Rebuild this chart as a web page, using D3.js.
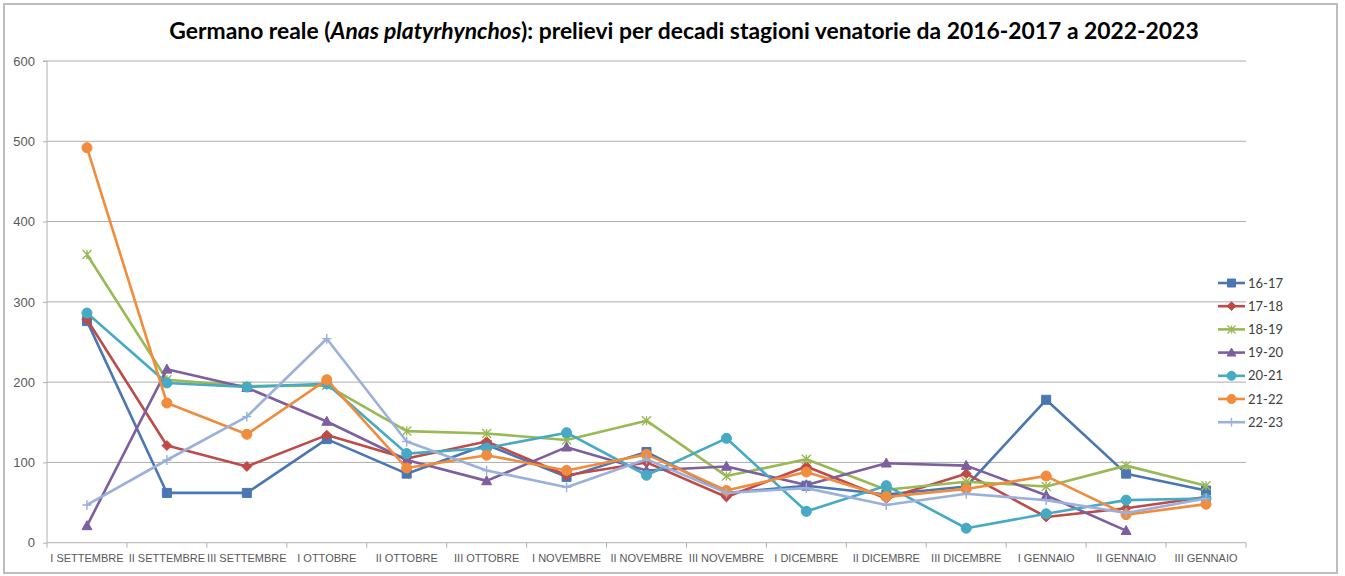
<!DOCTYPE html>
<html>
<head>
<meta charset="utf-8">
<script src="https://cdn.jsdelivr.net/npm/d3@7"></script>
<style>
  body { margin: 0; background: #fff; }
  svg { display: block; font-family: Lato, "Open Sans", sans-serif; }
  .grid line { stroke: #acacac; stroke-width: 1; }
  .axis text { fill: #595959; }
  .axis path, .axis line { stroke: #b0b0b0; }
</style>
</head>
<body>
<svg id="view"></svg>
<script>
// decadi
const categories = ['I SETTEMBRE', 'II SETTEMBRE', 'III SETTEMBRE', 'I OTTOBRE', 'II OTTOBRE', 'III OTTOBRE',
  'I NOVEMBRE', 'II NOVEMBRE', 'III NOVEMBRE', 'I DICEMBRE', 'II DICEMBRE', 'III DICEMBRE',
  'I GENNAIO', 'II GENNAIO', 'III GENNAIO'];

const seasons = ['16-17', '17-18', '18-19', '19-20', '20-21', '21-22', '22-23'];

const s1617 = [276, 62, 62, 129, 86, 122, 82, 113, 62, 71, 60, 70, 178, 86, 65];
const s1718 = [278, 121, 95, 134, 105, 126, 84, 100, 57, 95, 55, 86, 32, 43, 57];
const s1819 = [359, 203, 195, 196, 139, 136, 128, 152, 83, 104, 66, 76, 70, 96, 71];
const s1920 = [21, 216, 193, 151, 103, 77, 119, 90, 95, 72, 99, 96, 59, 15, null];
const s2021 = [286, 199, 194, 198, 111, 118, 137, 84, 130, 39, 71, 18, 36, 53, 55];
const s2122 = [492, 174, 135, 203, 93, 109, 90, 110, 65, 88, 57, 67, 83, 35, 48];
const s2223 = [47, 103, 157, 254, 126, 90, 69, 104, 62, 68, 47, 61, 53, 37, 55];

const yTicks = [0, 100, 200, 300, 400, 500, 600];

const seriesValues = [s1617, s1718, s1819, s1920, s2021, s2122, s2223];
const colors = ['#4a76b4', '#be4b48', '#98b954', '#7d5fa0', '#46aac5', '#f08c3c', '#9bb0da'];
const markers = ['square', 'diamond', 'star', 'triangle', 'circle', 'circle', 'plus'];

const W = 1345, H = 576;
const plot = {left: 47, right: 1246, top: 61, bottom: 542.7};

const svg = d3.select('#view').attr('width', W).attr('height', H);

// chart frame
svg.append('rect')
  .attr('x', 4).attr('y', 4).attr('width', 1333).attr('height', 569)
  .attr('fill', '#fff').attr('stroke', '#bdbdbd').attr('stroke-width', 2);

const x = d3.scaleBand().domain(categories).range([plot.left, plot.right]).padding(0);
const y = d3.scaleLinear().domain([0, 600]).range([plot.bottom, plot.top]);
const cx = d => x(d) + x.bandwidth() / 2;

// gridlines
svg.append('g').attr('class', 'grid')
  .selectAll('line').data(yTicks.filter(t => t > 0)).enter().append('line')
  .attr('x1', plot.left).attr('x2', plot.right)
  .attr('y1', d => y(d)).attr('y2', d => y(d));

// y axis
const yAxis = svg.append('g').attr('class', 'axis')
  .attr('transform', `translate(${plot.left},0)`)
  .call(d3.axisLeft(y).tickValues(yTicks).tickSize(4).tickPadding(8))
  .attr('font-size', 13);
yAxis.select('.domain').attr('d', `M-4,${plot.top}H0V${plot.bottom}`);

// x axis
const xAxis = svg.append('g').attr('class', 'axis')
  .attr('transform', `translate(0,${plot.bottom})`)
  .call(d3.axisBottom(x).tickSize(0).tickPadding(12))
  .attr('font-size', 11);
xAxis.select('.domain').attr('d', `M${plot.left},0H${plot.right}`);
xAxis.selectAll('.bound').data(categories.concat(['end'])).enter().append('line')
  .attr('class', 'bound')
  .attr('x1', (d, i) => i < categories.length ? x(d) : plot.right)
  .attr('x2', (d, i) => i < categories.length ? x(d) : plot.right)
  .attr('y1', 0).attr('y2', 5);

// marker shapes
const markerPath = function(type, s){
  switch(type){
    case 'square': return `M${-s},${-s}H${s}V${s}H${-s}Z`;
    case 'diamond': return `M0,${-s*1.1}L${s*1.1},0L0,${s*1.1}L${-s*1.1},0Z`;
    case 'triangle': return `M0,${-s*1.15}L${s*1.1},${s*0.85}L${-s*1.1},${s*0.85}Z`;
    case 'circle': return d3.symbol(d3.symbolCircle, Math.PI * s * s * 1.25)();
    case 'star': return `M${-s},${-s}L${s},${s}M${-s},${s}L${s},${-s}M0,${-s}V${s}`;
    case 'plus': return `M${-s},0H${s}M0,${-s*1.1}V${s*1.1}`;
  }
};
const isOpen = t => t === 'star' || t === 'plus';

const line = d3.line()
  .defined(d => d.v !== null)
  .x(d => cx(d.c))
  .y(d => y(d.v));

seriesValues.forEach((vals, k) => {
  const pts = vals.map((v, i) => ({c: categories[i], v: v}));
  const g = svg.append('g');
  g.append('path').datum(pts)
    .attr('fill', 'none')
    .attr('stroke', colors[k])
    .attr('stroke-width', 2.6)
    .attr('stroke-linejoin', 'round')
    .attr('d', line);
  g.selectAll('.mk').data(pts.filter(d => d.v !== null)).enter().append('path')
    .attr('class', 'mk')
    .attr('transform', d => `translate(${cx(d.c)},${y(d.v)})`)
    .attr('d', markerPath(markers[k], 4.5))
    .attr('fill', isOpen(markers[k]) ? 'none' : colors[k])
    .attr('stroke', colors[k])
    .attr('stroke-width', isOpen(markers[k]) ? 1.4 : 1);
});

// legend
const legend = svg.append('g').attr('transform', 'translate(1218,283)');
seasons.forEach((name, k) => {
  const row = legend.append('g').attr('transform', `translate(0,${k * 23.2})`);
  row.append('line').attr('x1', 0).attr('x2', 27).attr('y1', 0).attr('y2', 0)
    .attr('stroke', colors[k]).attr('stroke-width', 2.6);
  row.append('path').attr('transform', 'translate(13.5,0)')
    .attr('d', markerPath(markers[k], 4))
    .attr('fill', isOpen(markers[k]) ? 'none' : colors[k])
    .attr('stroke', colors[k])
    .attr('stroke-width', isOpen(markers[k]) ? 1.4 : 1);
  row.append('text').attr('x', 30).attr('y', 0).attr('dy', '0.35em')
    .style('font-size', '13px').style('fill', '#404040')
    .text(name);
});

// title
const title = svg.append('text')
  .attr('x', 684).attr('y', 39)
  .attr('text-anchor', 'middle')
  .style('font-size', '20px').style('font-weight', 'bold').style('fill', '#000');
title.append('tspan').text('Germano reale (');
title.append('tspan').style('font-style', 'italic').text('Anas platyrhynchos');
title.append('tspan').text('): prelievi per decadi stagioni venatorie da 2016-2017 a 2022-2023');
const tw = title.node().getComputedTextLength();
title.style('font-size', (20 * 1030 / tw).toFixed(2) + 'px');
</script>
</body>
</html>
